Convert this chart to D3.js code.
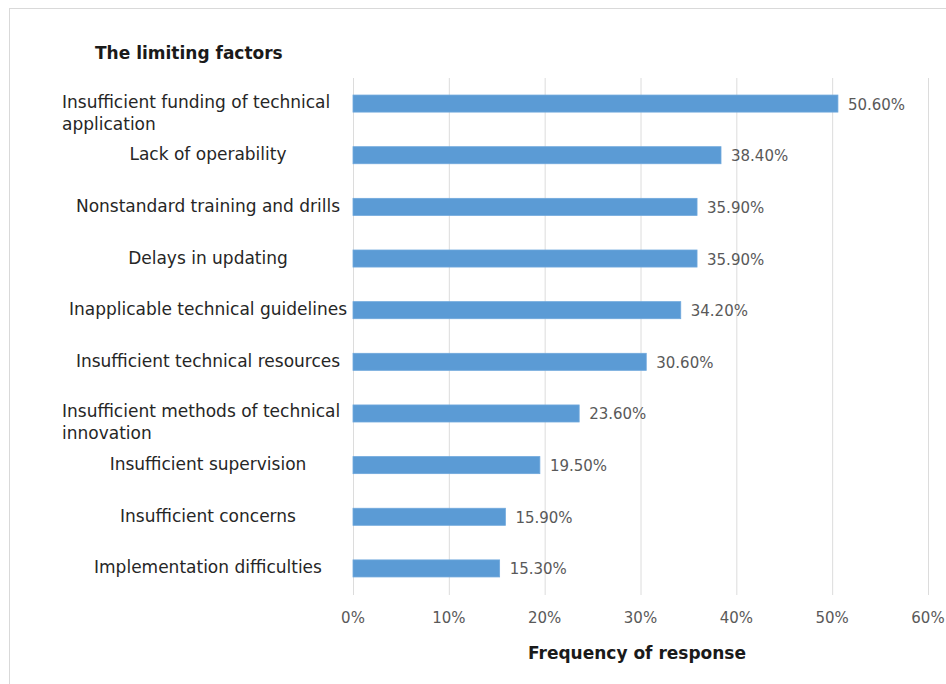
<!DOCTYPE html>
<html>
<head>
<meta charset="utf-8">
<script src="https://cdn.jsdelivr.net/npm/d3@7"></script>
<style>
  body { margin: 0; background: #fff; }
  svg { display: block; font-family: "DejaVu Sans", Verdana, sans-serif; }
</style>
</head>
<body>
<div class="chart"></div>
<script>
// chart data
const categories = [
    ["Insufficient funding of technical", "application"],
    ["Lack of operability"],
    ["Nonstandard training and drills"],
    ["Delays in updating"],
    ["Inapplicable technical guidelines"],
    ["Insufficient technical resources"],
    ["Insufficient methods of technical", "innovation"],
    ["Insufficient supervision"],
    ["Insufficient concerns"],
    ["Implementation difficulties"]
];
const values = [50.6, 38.4, 35.9, 35.9, 34.2, 30.6, 23.6, 19.5, 15.9, 15.3];
const ticks = [0, 10, 20, 30, 40, 50, 60];

const width = 946, height = 684;
const margin = { top: 78, right: 18, bottom: 90, left: 353 };

const svg = d3.select(".chart").append("svg")
    .attr("width", width)
    .attr("height", height);

// outer chart border (only top and left edges visible)
svg.append("rect")
    .attr("x", 9.5).attr("y", 8.5)
    .attr("width", width + 20).attr("height", height + 20)
    .attr("fill", "none")
    .attr("stroke", "#d9d9d9");

const x = d3.scaleLinear()
    .domain([0, 60])
    .range([margin.left, width - margin.right]);

const y = d3.scaleBand()
    .domain(d3.range(categories.length))
    .range([margin.top, height - margin.bottom])
    .paddingInner(0.67)
    .paddingOuter(0.33);

// vertical gridlines
svg.append("g")
    .selectAll("line")
    .data(ticks)
    .join("line")
    .attr("x1", d => x(d) + 0.5)
    .attr("x2", d => x(d) + 0.5)
    .attr("y1", margin.top)
    .attr("y2", height - margin.bottom + 1)
    .attr("stroke", "#dcdcdc");

// x tick labels
svg.append("g")
    .selectAll("text")
    .data(ticks)
    .join("text")
    .attr("x", d => x(d))
    .attr("y", 623)
    .attr("text-anchor", "middle")
    .attr("fill", "#595959")
    .attr("font-size", 15)
    .text(d => d + "%");

// bars
svg.append("g")
    .selectAll("rect")
    .data(values)
    .join("rect")
    .attr("x", x(0))
    .attr("y", (d, i) => y(i))
    .attr("width", d => x(d) - x(0))
    .attr("height", y.bandwidth())
    .attr("fill", "#5b9bd5")
    .attr("stroke", "#6fa8dc")
    .attr("stroke-width", 0.8);

// value labels
svg.append("g")
    .selectAll("text")
    .data(values)
    .join("text")
    .attr("x", d => x(d) + 10)
    .attr("y", (d, i) => y(i) + y.bandwidth() / 2 + 6)
    .attr("fill", "#595959")
    .attr("font-size", 15)
    .text(d => d.toFixed(2) + "%");

// category labels
const catG = svg.append("g");
categories.forEach((lines, i) => {
    const cy = y(i) + y.bandwidth() / 2;
    const t = catG.append("text")
        .attr("fill", "#262626")
        .attr("font-size", 17);
    if (lines.length > 1) {
        t.attr("text-anchor", "start");
        lines.forEach((ln, j) => {
            t.append("tspan")
                .attr("x", 62)
                .attr("y", cy + 4 + j * 22)
                .text(ln);
        });
    } else {
        t.attr("text-anchor", "middle")
            .attr("x", 208)
            .attr("y", cy + 5)
            .text(lines[0]);
    }
});

// chart title
svg.append("text")
    .attr("x", 95)
    .attr("y", 59)
    .attr("font-size", 17)
    .attr("font-weight", "bold")
    .attr("fill", "#1a1a1a")
    .text("The limiting factors");

// axis title
svg.append("text")
    .attr("x", 637)
    .attr("y", 659)
    .attr("text-anchor", "middle")
    .attr("font-size", 17)
    .attr("font-weight", "bold")
    .attr("fill", "#1a1a1a")
    .text("Frequency of response");
</script>
</body>
</html>
